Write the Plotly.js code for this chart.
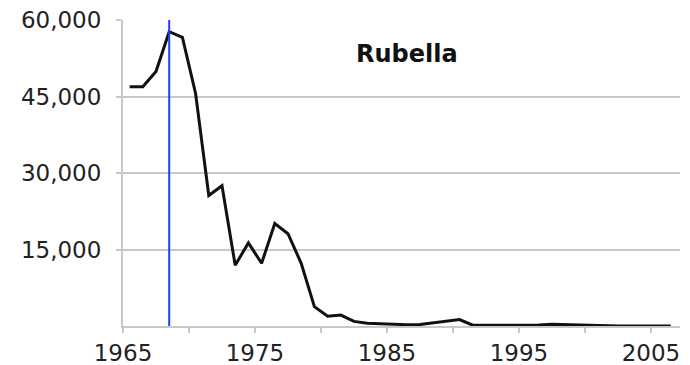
<!DOCTYPE html>
<html>
<head>
<meta charset="utf-8">
<script src="https://cdn.plot.ly/plotly-3.0.1.min.js"></script>
<style>
  html, body { margin: 0; padding: 0; background: #fff; }
  #chart { width: 690px; height: 365px; }
</style>
</head>
<body>
<div id="chart"></div>
<script>
// Reported rubella cases per year
const years = [1966, 1967, 1968, 1969, 1970, 1971, 1972, 1973, 1974, 1975,
               1976, 1977, 1978, 1979, 1980, 1981, 1982, 1983, 1984, 1985,
               1986, 1987, 1988, 1989, 1990, 1991, 1992, 1993, 1994, 1995,
               1996, 1997, 1998, 1999, 2000, 2001, 2002, 2003, 2004, 2005,
               2006, 2007];
const cases = [46900, 46900, 49900, 57700, 56600, 45600, 25600, 27500, 11900, 16300,
               12300, 20100, 18100, 12300, 3800, 1900, 2150, 900, 550, 450,
               350, 250, 300, 600, 1000, 1250, 150, 150, 200, 120,
               200, 180, 350, 280, 180, 30, 20, 10, 10, 10,
               10, 12];
const vaccineYear = 1969;
const yTickVals = [15000, 30000, 45000, 60000];
const xTickVals = [1965, 1975, 1985, 1995, 2005];
const xMinorTickVals = [1970, 1980, 1990, 2000];
const chartTitle = "Rubella";

// points are drawn mid-interval (category-style placement)
const xPos = years.map(y => y - 0.5);
const vx = vaccineYear - 0.5;

const trace = {
  x: xPos, y: cases, type: 'scatter', mode: 'lines',
  line: {color: '#111111', width: 3},
  hoverinfo: 'skip'
};
const vline = {
  x: [vx, vx], y: [0, 60000], type: 'scatter', mode: 'lines',
  line: {color: '#1f3fff', width: 2}, hoverinfo: 'skip'
};

const layout = {
  width: 690, height: 365,
  margin: {l: 123, r: 10, t: 20, b: 39},
  paper_bgcolor: '#ffffff', plot_bgcolor: '#ffffff',
  showlegend: false,
  font: {family: 'DejaVu Sans, Verdana, sans-serif', size: 23, color: '#222222'},
  xaxis: {
    range: [1965, 2007.2],
    tickvals: xTickVals, ticktext: xTickVals.map(String),
    ticks: 'outside', ticklen: 5, tickwidth: 2, tickcolor: '#c8c8c8',
    minor: {tickvals: xMinorTickVals, ticks: 'outside', ticklen: 5, tickwidth: 2, tickcolor: '#c8c8c8', showgrid: false},
    showgrid: false, zeroline: false,
    showline: true, linecolor: '#c8c8c8', linewidth: 2,
    ticklabelstandoff: 0,
    fixedrange: true
  },
  yaxis: {
    range: [0, 60000],
    tickvals: yTickVals, ticktext: yTickVals.map(v => v.toLocaleString('en-US')),
    ticks: 'outside', ticklen: 5, tickwidth: 2, tickcolor: '#c8c8c8',
    showgrid: true, gridcolor: '#c8c8c8', gridwidth: 2,
    zeroline: false,
    showline: true, linecolor: '#c8c8c8', linewidth: 2,
    ticklabelstandoff: 10,
    fixedrange: true
  },
  annotations: [{
    text: '<b>' + chartTitle + '</b>', xref: 'paper', yref: 'paper',
    x: 0.51, y: 0.889, xanchor: 'center', yanchor: 'middle', showarrow: false,
    font: {family: 'DejaVu Sans, Verdana, sans-serif', size: 24, color: '#111111'}
  }]
};

Plotly.newPlot('chart', [trace, vline], layout, {displayModeBar: false, staticPlot: true});
</script>
</body>
</html>
